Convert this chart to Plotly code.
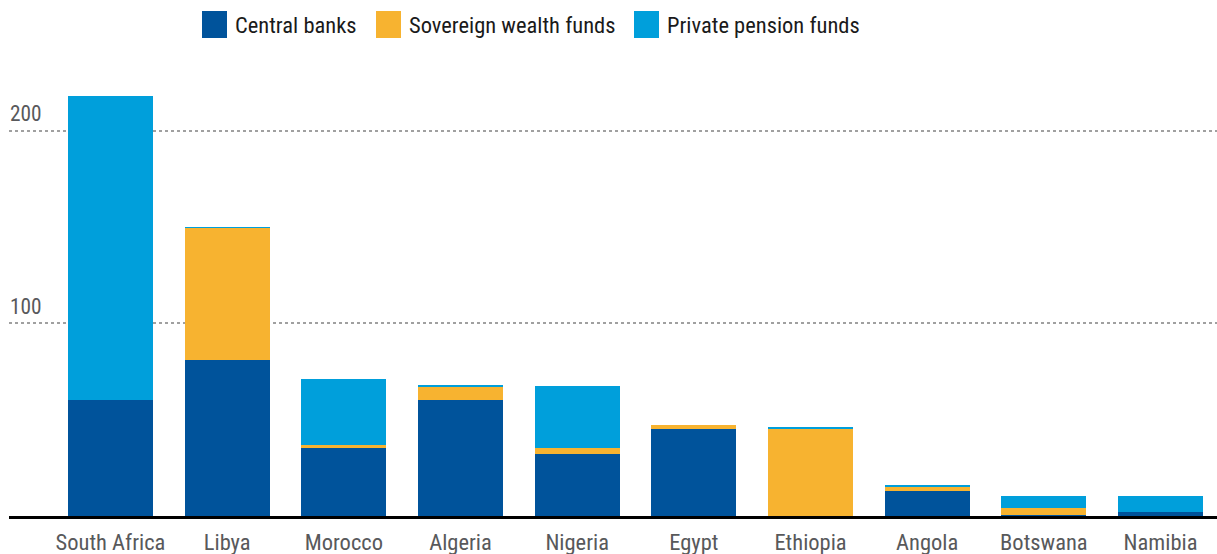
import plotly.graph_objects as go

countries = ["South Africa", "Libya", "Morocco", "Algeria", "Nigeria",
             "Egypt", "Ethiopia", "Angola", "Botswana", "Namibia"]
central_banks = [60.2, 81.0, 35.3, 60.2, 32.2, 45.2, 0.0, 13.0, 0.3, 2.1]
sovereign_wealth = [0.0, 68.5, 1.6, 7.1, 3.1, 2.0, 45.5, 2.1, 3.9, 0.1]
private_pension = [157.8, 0.2, 34.2, 0.2, 32.2, 0.0, 0.3, 0.5, 6.2, 8.3]

series_names = ["Central banks", "Sovereign wealth funds", "Private pension funds"]
series_values = [central_banks, sovereign_wealth, private_pension]
series_colors = ["#00539B", "#F7B330", "#009FDB"]

y_ticks = [100, 200]
y_tick_labels = ["100", "200"]

FONT = "Roboto Condensed, Roboto, sans-serif"

W, H = 1217, 554
ML, MR, MT, MB = 9, 0, 92, 38

fig = go.Figure()
for name, vals, col in zip(series_names, series_values, series_colors):
    fig.add_trace(go.Bar(x=countries, y=vals, name=name, marker_color=col,
                         marker_line_width=0, showlegend=False))

def px_to_paper_x(px):
    return (px - ML) / (W - ML - MR)

def px_to_paper_y(py):
    return (H - MB - py) / (H - MT - MB)

# custom legend
shapes = []
annotations = []
legend_x = [202, 376, 634]
for name, col, lx in zip(series_names, series_colors, legend_x):
    shapes.append(dict(type="rect", xref="paper", yref="paper",
                       x0=px_to_paper_x(lx), x1=px_to_paper_x(lx + 25),
                       y0=px_to_paper_y(38), y1=px_to_paper_y(11),
                       fillcolor=col, line_width=0))
    annotations.append(dict(xref="paper", yref="paper", x=px_to_paper_x(lx + 31),
                            y=px_to_paper_y(24.5), text=name, showarrow=False,
                            xanchor="left", yanchor="middle",
                            font=dict(family=FONT, size=22.5, color="#1a1a1a")))

fig.update_layout(
    width=W, height=H,
    barmode="stack", bargap=0.271,
    margin=dict(l=ML, r=MR, t=MT, b=MB, pad=0),
    plot_bgcolor="white", paper_bgcolor="white",
    font=dict(family=FONT, size=22, color="#58595B"),
    shapes=shapes, annotations=annotations,
    xaxis=dict(range=[-0.87, 9.484], showline=True, linecolor="black", linewidth=3,
               ticks="", showgrid=False, zeroline=False, ticklabelstandoff=4,
               tickfont=dict(family=FONT, size=22.5, color="#58595B")),
    yaxis=dict(range=[0, 220], tickvals=y_ticks, ticktext=y_tick_labels,
               ticklabelposition="inside top", ticklabelshift=-2, ticklabelstandoff=-2,
               showgrid=True, gridcolor="#a0a0a0",
               gridwidth=2, griddash="dot", zeroline=False, showline=False, ticks="",
               tickfont=dict(family=FONT, size=21.3, color="#58595B")),
)

fig.write_html("out.html")
